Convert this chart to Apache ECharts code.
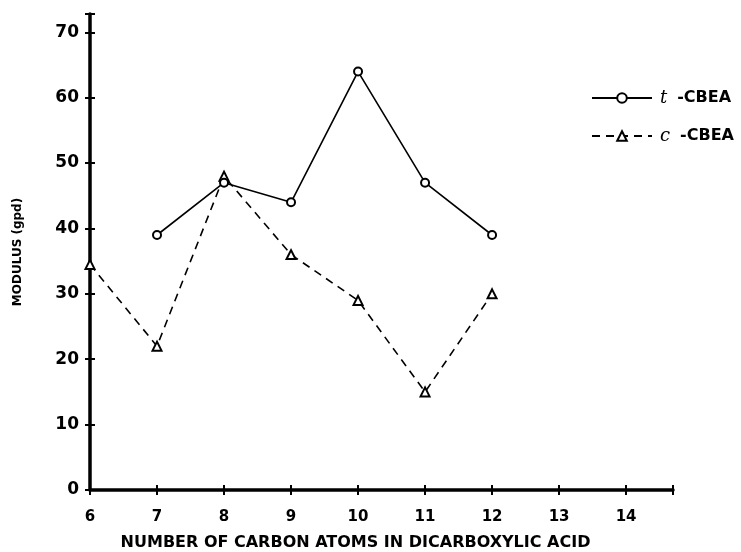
<!DOCTYPE html>
<html style="height: 100%">

<head>
  <meta charset="utf-8">
  <script type="text/javascript" src="https://cdn.jsdelivr.net/npm/echarts/dist/echarts.min.js"></script>
</head>

<body style="margin: 0; height: 100%; background: #fff">
  <div id="container" style="width: 741px; height: 552px"></div>
  <script type="text/javascript">
    // carbon atoms in the dicarboxylic acid
    var carbonT = [7, 8, 9, 10, 11, 12];
    var carbonC = [6, 7, 8, 9, 10, 11, 12];
    // modulus (gpd)
    var modulusT = [39, 47, 44, 64, 47, 39];
    var modulusC = [34.5, 22, 48, 36, 29, 15, 30];
    var xTicks = [6, 7, 8, 9, 10, 11, 12, 13, 14];
    var yTicks = [0, 10, 20, 30, 40, 50, 60, 70];

    function pairs(xs, ys) {
      var out = [];
      for (var i = 0; i < xs.length; i++) {
        out.push([xs[i], ys[i]]);
      }
      return out;
    }

    var font = 'DejaVu Sans';
    var dom = document.getElementById("container");
    var myChart = echarts.init(dom, null, { renderer: 'canvas' });

    var axisBase = {
      axisLine: { show: true, lineStyle: { color: '#000', width: 3.5 } },
      splitLine: { show: false },
      axisTick: { show: true, length: 5, lineStyle: { color: '#000', width: 2 } }
    };

    option = {
      backgroundColor: '#fff',
      animation: false,
      grid: { left: 90, right: 68, top: 14, bottom: 62, containLabel: false, outerBoundsMode: 'none' },
      legend: {
        orient: 'vertical',
        left: 586,
        top: 84,
        itemWidth: 60,
        itemHeight: 12,
        itemGap: 20,
        data: ['t', 'c'],
        formatter: function (name) {
          return '{i|' + name + '}{b|-CBEA}';
        },
        textStyle: {
          color: '#000',
          rich: {
            i: { fontFamily: 'DejaVu Serif', fontStyle: 'italic', fontSize: 18, color: '#000', padding: [0, 10, 0, 3] },
            b: { fontFamily: font, fontWeight: 'bold', fontSize: 16, color: '#000' }
          }
        }
      },
      xAxis: [
        Object.assign({}, axisBase, {
          type: 'value',
          min: 6,
          max: 14.7,
          interval: 1,
          name: 'NUMBER OF CARBON ATOMS IN DICARBOXYLIC ACID',
          nameLocation: 'middle',
          nameGap: 45,
          nameTextStyle: { fontFamily: font, fontWeight: 'bold', fontSize: 16, color: '#000', padding: [0, 52, 0, 0] },
          axisLabel: {
            margin: 20,
            fontFamily: font, fontWeight: 'bold', fontSize: 15, color: '#000',
            formatter: function (v) { return xTicks.indexOf(v) >= 0 ? String(v) : ''; }
          }
        }),
        {
          type: 'value', min: 6, max: 14.7, interval: 1, position: 'bottom',
          axisLine: { show: false }, axisLabel: { show: false }, splitLine: { show: false },
          axisTick: { show: true, inside: true, length: 5, lineStyle: { color: '#000', width: 2 } }
        }
      ],
      yAxis: [
        Object.assign({}, axisBase, {
          type: 'value',
          min: 0,
          max: 72.8,
          interval: 10,
          name: 'MODULUS (gpd)',
          nameLocation: 'middle',
          nameGap: 66,
          nameTextStyle: { fontFamily: font, fontWeight: 'bold', fontSize: 12, color: '#000' },
          axisLabel: {
            margin: 11,
            fontFamily: font, fontWeight: 'bold', fontSize: 17, color: '#000',
            formatter: function (v) { return yTicks.indexOf(v) >= 0 ? String(v) : ''; }
          }
        }),
        {
          type: 'value', min: 0, max: 72.8, interval: 10, position: 'left',
          axisLine: { show: false }, axisLabel: { show: false }, splitLine: { show: false },
          axisTick: { show: true, inside: true, length: 5, lineStyle: { color: '#000', width: 2 } }
        }
      ],
      series: [
        {
          name: 't',
          type: 'line',
          data: pairs(carbonT, modulusT),
          symbol: 'circle',
          symbolSize: 8,
          showAllSymbol: true,
          clip: false,
          itemStyle: { color: '#fff', borderColor: '#000', borderWidth: 2 },
          lineStyle: { color: '#000', width: 1.6, type: 'solid' },
          z: 3
        },
        {
          name: 'c',
          type: 'line',
          data: pairs(carbonC, modulusC),
          symbol: 'triangle',
          symbolSize: 9,
          showAllSymbol: true,
          clip: false,
          itemStyle: { color: '#fff', borderColor: '#000', borderWidth: 2 },
          lineStyle: { color: '#000', width: 1.6, type: [8, 6] },
          z: 2
        }
      ]
    };
    myChart.setOption(option);
  </script>
</body>

</html>
